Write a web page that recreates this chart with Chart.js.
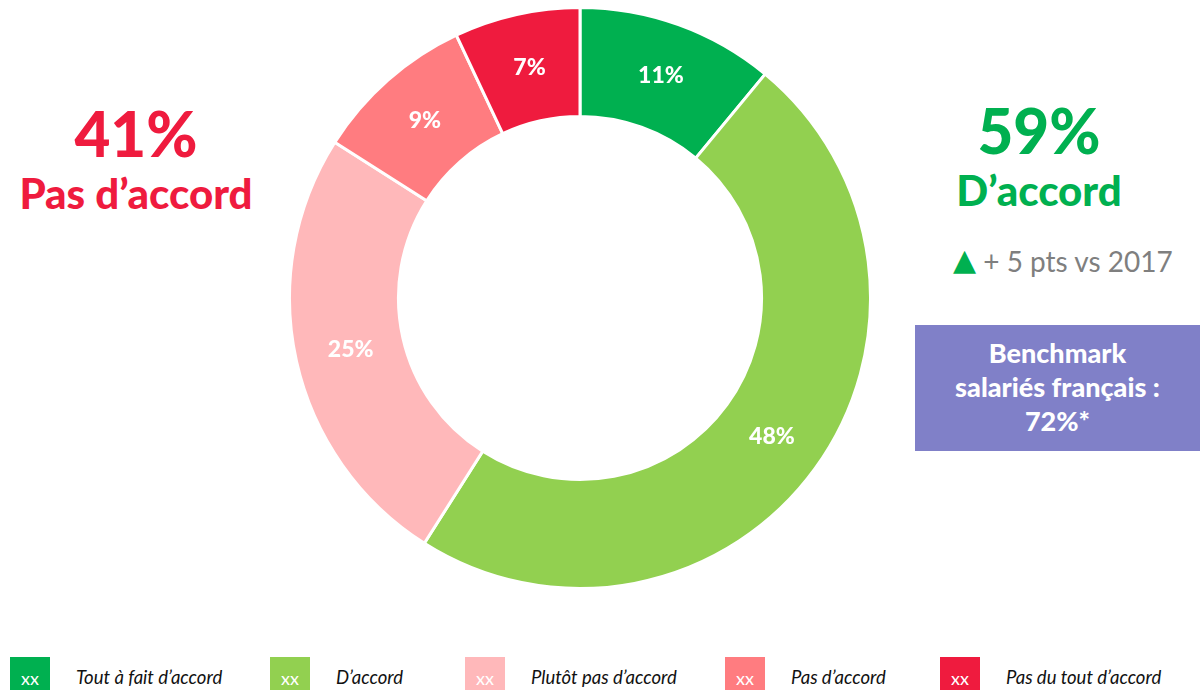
<!DOCTYPE html>
<html>
<head>
<meta charset="utf-8">
<script src="https://cdn.jsdelivr.net/npm/chart.js@4"></script>
<style>
  body { margin: 0; width: 1200px; height: 690px; overflow: hidden; background: #fff; font-family: Lato, sans-serif; }
  #wrap { position: absolute; left: 288px; top: 6px; width: 584px; height: 584px; }
  .side { position: absolute; text-align: center; font-weight: 900; }
  .big { font-size: 62px; line-height: 60px; }
  .sub { font-size: 42px; line-height: 60px; }
  #left { left: 0; width: 272px; top: 103px; color: #EF1B3E; }
  #right { left: 921px; width: 236px; top: 100px; color: #00B050; }
  #trend { position: absolute; left: 953px; top: 244px; font-size: 28px; color: #7f7f7f; white-space: nowrap; }
  #trend span { color: #00B050; font-size: 30px; font-family: 'DejaVu Sans'; position: relative; top: -2px; }
  #bench { position: absolute; left: 915px; top: 325px; width: 285px; height: 126px; background: #8080C8; color: #fff; font-weight: 900; font-size: 27px; line-height: 34px; text-align: center; box-sizing: border-box; padding-top: 11px; }
  #legend { position: absolute; left: 0; top: 657px; width: 1200px; height: 33px; }
  .item { position: absolute; top: 0; height: 33px; display: flex; align-items: center; }
  .box { width: 40px; height: 33px; color: #fff; font-size: 18px; display: flex; align-items: center; justify-content: center; padding-top: 8px; box-sizing: border-box; }
  .lab { font-style: italic; font-size: 18.5px; color: #111; margin-left: 26px; padding-top: 6px; }
</style>
</head>
<body>
<div id="left" class="side"><div class="big">41%</div><div class="sub">Pas d’accord</div></div>
<div id="right" class="side"><div class="big">59%</div><div class="sub">D’accord</div></div>
<div id="trend"><span>▲</span> + 5 pts vs 2017</div>
<div id="bench">Benchmark<br>salariés français :<br>72%*</div>
<div id="wrap"><canvas id="canDonut"></canvas></div>
<div id="legend"></div>
<script>
const categories = ['Tout à fait d’accord', 'D’accord', 'Plutôt pas d’accord', 'Pas d’accord', 'Pas du tout d’accord']
const values = [11, 48, 25, 9, 7]
const colors = ['#00B050', '#92D050', '#FFB8BA', '#FF7C80', '#EF1B3E']
const legendX = [10, 270, 465, 725, 940]

const legend = document.getElementById('legend')
categories.forEach(function (c, i) {
  const el = document.createElement('div')
  el.className = 'item'
  el.style.left = legendX[i] + 'px'
  el.innerHTML = '<div class="box" style="background:' + colors[i] + '">xx</div><div class="lab">' + c + '</div>'
  legend.appendChild(el)
})

// white percentage labels in the middle of each slice
const sliceLabels = {
  id: 'sliceLabels',
  afterDatasetsDraw (chart) {
    const ctx = chart.ctx
    const meta = chart.getDatasetMeta(0)
    ctx.save()
    ctx.fillStyle = '#fff'
    ctx.font = '900 23px Lato'
    ctx.textAlign = 'center'
    ctx.textBaseline = 'middle'
    meta.data.forEach(function (arc, i) {
      const p = arc.tooltipPosition()
      ctx.fillText(values[i] + '%', p.x + 1, p.y)
    })
    ctx.restore()
  }
}

new Chart(document.getElementById('canDonut'), {
  type: 'doughnut',
  data: {
    labels: categories,
    datasets: [
      {
        data: values,
        backgroundColor: colors,
        borderColor: '#fff',
        borderWidth: 3
      }
    ]
  },
  options: {
    responsive: true,
    maintainAspectRatio: false,
    animation: false,
    cutout: '62.5%',
    plugins: { legend: { display: false }, tooltip: { enabled: false } }
  },
  plugins: [sliceLabels]
})
</script>
</body>
</html>
